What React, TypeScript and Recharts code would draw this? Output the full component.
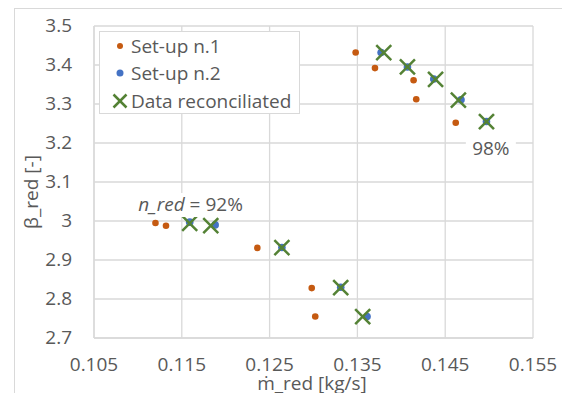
import React from "react";
import {
  ScatterChart,
  Scatter,
  XAxis,
  YAxis,
  CartesianGrid,
  ReferenceDot,
} from "recharts";

const setup1X = [0.1348, 0.1370, 0.1414, 0.1417, 0.1462, 0.1120, 0.1132, 0.1236, 0.1298, 0.1302];
const setup1Y = [3.432, 3.392, 3.361, 3.312, 3.252, 2.995, 2.988, 2.931, 2.828, 2.755];

const setup2X = [0.1377, 0.1407, 0.1437, 0.1468, 0.1497, 0.1159, 0.1188, 0.1264, 0.1331, 0.1361];
const setup2Y = [3.432, 3.395, 3.364, 3.311, 3.255, 2.997, 2.990, 2.932, 2.830, 2.755];

const reconX = [0.1380, 0.1407, 0.1439, 0.1465, 0.1497, 0.1159, 0.1183, 0.1264, 0.1331, 0.1356];
const reconY = [3.432, 3.395, 3.363, 3.310, 3.255, 2.994, 2.988, 2.932, 2.829, 2.755];

const xTicks = [0.105, 0.115, 0.125, 0.135, 0.145, 0.155];
const yTicks = [2.7, 2.8, 2.9, 3, 3.1, 3.2, 3.3, 3.4, 3.5];

const toPoints = (xs: number[], ys: number[]) => xs.map((x, i) => ({ x, y: ys[i] }));

const ORANGE = "#C55A11";
const BLUE = "#4472C4";
const GREEN = "#548235";
const GRID = "#d9d9d9";
const TEXT = "#595959";
const FONT = "'Open Sans', sans-serif";
const FS = 19;

const Dot = (color: string, r: number) => (props: any) => (
  <circle cx={props.cx} cy={props.cy} r={r} fill={color} />
);

const Cross = (props: any) => {
  const { cx, cy } = props;
  const s = 7.5;
  return (
    <g stroke={GREEN} strokeWidth={2.5}>
      <line x1={cx - s} y1={cy - s} x2={cx + s} y2={cy + s} />
      <line x1={cx - s} y1={cy + s} x2={cx + s} y2={cy - s} />
    </g>
  );
};

const XTick = (props: any) => {
  const { x, y, payload } = props;
  return (
    <text x={x} y={y + 25} textAnchor="middle" fill={TEXT} fontSize={FS} fontFamily={FONT}>
      {payload.value}
    </text>
  );
};

const YTick = (props: any) => {
  const { x, y, payload } = props;
  return (
    <text x={x - 14} y={y + 6} textAnchor="end" fill={TEXT} fontSize={FS} fontFamily={FONT}>
      {payload.value}
    </text>
  );
};

const Note = (w: number, content: React.ReactNode) => (props: any) => {
  const { cx, cy } = props;
  return (
    <g>
      <rect x={cx - w / 2} y={cy - 12} width={w} height={24} fill="#fff" />
      <text x={cx} y={cy + 6} textAnchor="middle" fill={TEXT} fontSize={FS} fontFamily={FONT}>
        {content}
      </text>
    </g>
  );
};

function LegendBox() {
  const row = { display: "flex", alignItems: "center", height: 27.5 } as const;
  const mark = { width: 22, display: "flex", justifyContent: "center" } as const;
  return (
    <div
      style={{
        position: "absolute",
        left: 99,
        top: 31,
        width: 201,
        height: 83,
        border: `1px solid ${GRID}`,
        background: "#fff",
        fontFamily: FONT,
        fontSize: FS,
        color: TEXT,
        paddingLeft: 9,
        boxSizing: "border-box",
        paddingTop: 0,
      }}
    >
      <div style={row}>
        <span style={mark}>
          <svg width={10} height={10}><circle cx={5} cy={5} r={3} fill={ORANGE} /></svg>
        </span>
        <span>Set-up n.1</span>
      </div>
      <div style={row}>
        <span style={mark}>
          <svg width={10} height={10}><circle cx={5} cy={5} r={3.5} fill={BLUE} /></svg>
        </span>
        <span>Set-up n.2</span>
      </div>
      <div style={row}>
        <span style={mark}>
          <svg width={16} height={16}>
            <g stroke={GREEN} strokeWidth={2.5}>
              <line x1={1.5} y1={1.5} x2={14.5} y2={14.5} />
              <line x1={1.5} y1={14.5} x2={14.5} y2={1.5} />
            </g>
          </svg>
        </span>
        <span>Data reconciliated</span>
      </div>
    </div>
  );
}

export default function App() {
  return (
    <div style={{ position: "fixed", left: 0, top: 0, width: 562, height: 393, background: "#fff" }}>
      <div style={{ position: "absolute", left: 14, top: 8, width: 600, height: 400, borderLeft: `1px solid ${GRID}`, borderTop: `1px solid ${GRID}` }} />
      <ScatterChart
        width={562}
        height={393}
        margin={{ top: 26, right: 29, left: 0, bottom: 0 }}
        style={{ position: "absolute", left: 0, top: 0 }}
      >
        <CartesianGrid stroke={GRID} strokeWidth={1.3} />
        <XAxis
          type="number"
          dataKey="x"
          domain={[0.105, 0.155]}
          ticks={xTicks}
          height={55}
          axisLine={{ stroke: GRID, strokeWidth: 1.3 }}
          tickLine={false}
          tick={<XTick />}
          interval={0}
        />
        <YAxis
          type="number"
          dataKey="y"
          domain={[2.7, 3.5]}
          ticks={yTicks}
          width={94}
          axisLine={{ stroke: GRID, strokeWidth: 1.3 }}
          tickLine={false}
          tick={<YTick />}
          interval={0}
        />
        <Scatter data={toPoints(setup1X, setup1Y)} shape={Dot(ORANGE, 3.3)} isAnimationActive={false} />
        <Scatter data={toPoints(setup2X, setup2Y)} shape={Dot(BLUE, 3.8)} isAnimationActive={false} />
        <Scatter data={toPoints(reconX, reconY)} shape={Cross} isAnimationActive={false} />
        <ReferenceDot
          x={0.116}
          y={3.041}
          r={0}
          shape={Note(114, (
            <>
              <tspan fontStyle="italic">n_red</tspan> = 92%
            </>
          ))}
        />
        <ReferenceDot x={0.1502} y={3.185} r={0} shape={Note(50, "98%")} />
        <text x={312} y={390} textAnchor="middle" fill={TEXT} fontSize={FS} fontFamily={FONT}>
          ṁ_red [kg/s]
        </text>
        <text
          x={38}
          y={192}
          textAnchor="middle"
          fill={TEXT}
          fontSize={FS}
          fontFamily={FONT}
          transform="rotate(-90 38 192)"
        >
          β_red [-]
        </text>
      </ScatterChart>
      <LegendBox />
    </div>
  );
}
